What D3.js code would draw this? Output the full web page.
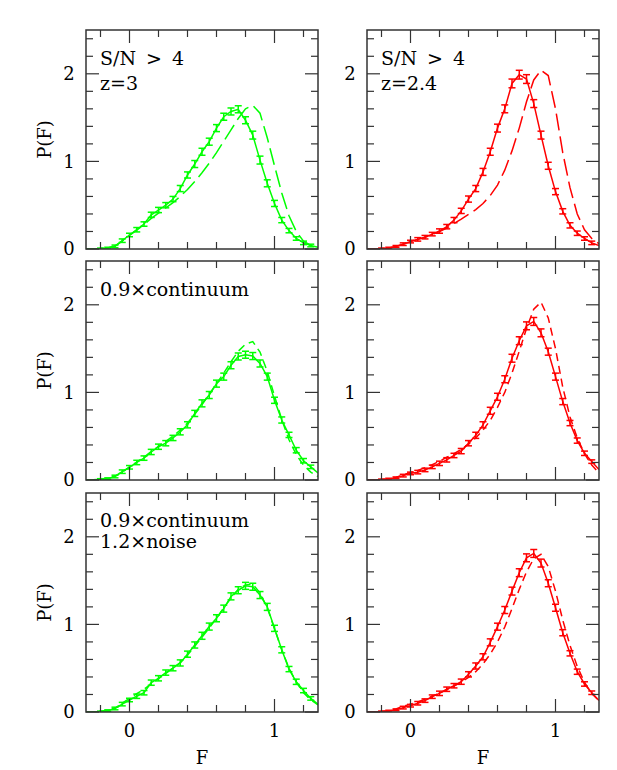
<!DOCTYPE html>
<html>
<head>
<meta charset="utf-8">
<script src="https://cdn.jsdelivr.net/npm/d3@7"></script>
<style>
  html, body { margin: 0; padding: 0; background: #fff; }
  svg { display: block; }
  text { font-family: "DejaVu Serif", serif; fill: #000; }
</style>
</head>
<body>
<svg id="chart" width="617" height="770"></svg>
<script>
// ---------------- DATA ----------------
const fGrid = [-0.3,-0.25,-0.2,-0.15,-0.1,-0.05,0,0.05,0.1,0.15,0.2,0.25,0.3,0.35,0.4,0.45,0.5,0.55,0.6,0.65,0.7,0.75,0.8,0.85,0.9,0.95,1.0,1.05,1.1,1.15,1.2,1.25,1.3];

// top-left: z=3, S/N > 4
const tlData  = [0,0,0.005,0.01,0.03,0.095,0.16,0.22,0.285,0.39,0.445,0.5,0.57,0.69,0.845,0.97,1.11,1.225,1.38,1.51,1.57,1.595,1.47,1.3,1.015,0.75,0.52,0.33,0.21,0.12,0.07,0.04,0.02];
const tlModel = [0,0,0.005,0.015,0.035,0.09,0.155,0.215,0.28,0.35,0.41,0.47,0.53,0.6,0.68,0.77,0.87,0.98,1.1,1.23,1.36,1.49,1.6,1.64,1.55,1.27,0.95,0.64,0.38,0.2,0.09,0.04,0.015];
const tlErr   = [0,0,0.005,0.01,0.015,0.02,0.02,0.025,0.025,0.03,0.03,0.03,0.03,0.035,0.035,0.04,0.04,0.04,0.04,0.04,0.04,0.04,0.04,0.045,0.045,0.04,0.035,0.03,0.025,0.02,0.02,0.015,0];

// top-right: z=2.4, S/N > 4
const trData  = [0,0,0.005,0.01,0.03,0.055,0.085,0.11,0.135,0.17,0.205,0.255,0.33,0.435,0.57,0.69,0.88,1.11,1.38,1.6,1.89,1.99,1.94,1.66,1.3,0.95,0.655,0.43,0.27,0.18,0.12,0.07,0.04];
const trModel = [0,0,0.005,0.01,0.03,0.055,0.085,0.11,0.135,0.165,0.2,0.24,0.29,0.34,0.395,0.45,0.52,0.61,0.73,0.9,1.12,1.38,1.68,1.93,2.04,1.98,1.6,1.1,0.7,0.4,0.22,0.12,0.06];
const trErr   = [0,0,0.005,0.01,0.01,0.015,0.015,0.02,0.02,0.02,0.025,0.025,0.03,0.03,0.035,0.035,0.04,0.04,0.045,0.045,0.05,0.05,0.05,0.045,0.045,0.04,0.035,0.03,0.03,0.025,0.02,0.02,0];

// middle-left: 0.9 x continuum
const mlData  = [0,0.003,0.01,0.015,0.04,0.095,0.145,0.2,0.25,0.32,0.38,0.42,0.48,0.55,0.63,0.76,0.875,0.97,1.1,1.18,1.31,1.41,1.43,1.415,1.33,1.18,0.91,0.685,0.515,0.34,0.22,0.15,0.08];
const mlModel = [0,0.003,0.01,0.02,0.045,0.09,0.15,0.205,0.26,0.325,0.385,0.44,0.5,0.57,0.65,0.75,0.86,0.98,1.1,1.22,1.35,1.47,1.55,1.58,1.46,1.24,0.96,0.69,0.46,0.29,0.17,0.09,0.04];
const mlErr   = [0,0,0.005,0.01,0.015,0.02,0.02,0.025,0.025,0.03,0.03,0.03,0.03,0.035,0.035,0.035,0.04,0.04,0.04,0.04,0.04,0.04,0.04,0.04,0.04,0.04,0.035,0.035,0.03,0.03,0.025,0.02,0];

// middle-right
const mrData  = [0,0,0.005,0.01,0.025,0.05,0.075,0.09,0.115,0.15,0.19,0.23,0.28,0.33,0.42,0.51,0.63,0.79,0.95,1.15,1.39,1.59,1.76,1.81,1.68,1.465,1.18,0.895,0.65,0.45,0.305,0.21,0.12];
const mrModel = [0,0,0.005,0.01,0.03,0.06,0.085,0.11,0.14,0.175,0.215,0.26,0.3,0.35,0.41,0.48,0.57,0.68,0.83,1.0,1.22,1.47,1.73,1.95,2.03,1.85,1.5,1.06,0.72,0.48,0.3,0.17,0.08];
const mrErr   = [0,0,0.005,0.01,0.01,0.015,0.015,0.02,0.02,0.02,0.025,0.025,0.025,0.03,0.03,0.035,0.035,0.04,0.04,0.04,0.045,0.045,0.045,0.045,0.045,0.04,0.04,0.035,0.03,0.03,0.025,0.02,0];

// bottom-left: 0.9 x continuum, 1.2 x noise
const blData  = [0,0.002,0.005,0.015,0.04,0.09,0.137,0.18,0.22,0.335,0.385,0.45,0.5,0.56,0.66,0.765,0.87,0.975,1.07,1.18,1.32,1.39,1.44,1.43,1.335,1.2,0.955,0.71,0.49,0.345,0.245,0.155,0.09];
const blModel = [0,0.003,0.01,0.02,0.045,0.1,0.155,0.21,0.26,0.32,0.38,0.44,0.5,0.565,0.65,0.75,0.855,0.96,1.07,1.19,1.3,1.4,1.45,1.46,1.36,1.19,0.95,0.71,0.5,0.34,0.22,0.14,0.08];
const blErr   = [0,0,0.005,0.01,0.015,0.02,0.02,0.025,0.025,0.03,0.03,0.03,0.03,0.035,0.035,0.035,0.04,0.04,0.04,0.04,0.04,0.04,0.04,0.04,0.04,0.04,0.035,0.035,0.03,0.03,0.025,0.02,0];

// bottom-right
const brData  = [0,0,0.005,0.01,0.025,0.05,0.072,0.1,0.13,0.175,0.213,0.26,0.3,0.346,0.43,0.525,0.63,0.795,0.974,1.164,1.38,1.59,1.76,1.81,1.7,1.47,1.19,0.905,0.67,0.46,0.32,0.22,0.13];
const brModel = [0,0,0.005,0.015,0.035,0.065,0.09,0.115,0.145,0.18,0.215,0.255,0.295,0.34,0.395,0.46,0.55,0.66,0.8,0.97,1.18,1.4,1.6,1.75,1.8,1.66,1.38,1.05,0.76,0.52,0.34,0.21,0.13];
const brErr   = [0,0,0.005,0.01,0.01,0.015,0.015,0.02,0.02,0.02,0.025,0.025,0.025,0.03,0.03,0.035,0.035,0.04,0.04,0.04,0.045,0.045,0.045,0.045,0.045,0.04,0.04,0.035,0.03,0.03,0.025,0.02,0];

const xTicksMinor = [-0.2,0.2,0.4,0.6,0.8,1.2];
const xTicksMajor = [0,1];
const yTicksMinor = [0.2,0.4,0.6,0.8,1.2,1.4,1.6,1.8,2.2,2.4];
const yTicksMajor = [0,1,2];
const xTickLabels = ["0","1"];
const yTickLabels = ["0","1","2"];
const xTitle = "F";
const yTitle = "P(F)";

const panelLabels = [
  ["S/N > 4","z=3"], ["S/N > 4","z=2.4"],
  ["0.9×continuum"], [],
  ["0.9×continuum","1.2×noise"], []
];

// ---------------- LAYOUT ----------------
const colX = [86, 367];
const rowY = [30, 261, 493];
const W = 232, H = 219;
const GREEN = "#00ff00", RED = "#ff0000";
const FRAME = "#333";

const panels = [
  {r:0,c:0,data:tlData,model:tlModel,err:tlErr,color:GREEN,dash:"17,6"},
  {r:0,c:1,data:trData,model:trModel,err:trErr,color:RED,dash:"17,6"},
  {r:1,c:0,data:mlData,model:mlModel,err:mlErr,color:GREEN,dash:"8,5"},
  {r:1,c:1,data:mrData,model:mrModel,err:mrErr,color:RED,dash:"8,5"},
  {r:2,c:0,data:blData,model:blModel,err:blErr,color:GREEN,dash:"8,5"},
  {r:2,c:1,data:brData,model:brModel,err:brErr,color:RED,dash:"8,5"}
];

const svg = d3.select("#chart");

panels.forEach((p, i) => {
  const x0 = colX[p.c], y0 = rowY[p.r];
  const x = d3.scaleLinear().domain([-0.3, 1.3]).range([x0, x0 + W]);
  const y = d3.scaleLinear().domain([0, 2.5]).range([y0 + H, y0]);
  const g = svg.append("g");

  const clipId = "clip" + i;
  svg.append("clipPath").attr("id", clipId)
    .append("rect").attr("x", x0).attr("y", y0).attr("width", W).attr("height", H);

  const plot = g.append("g").attr("clip-path", `url(#${clipId})`);
  const line = d3.line().x((d, k) => x(fGrid[k])).y(d => y(d));

  // model (dashed)
  plot.append("path").datum(p.model)
    .attr("d", line).attr("fill", "none")
    .attr("stroke", p.color).attr("stroke-width", 1.5)
    .attr("stroke-dasharray", p.dash);

  // data (solid)
  plot.append("path").datum(p.data)
    .attr("d", line).attr("fill", "none")
    .attr("stroke", p.color).attr("stroke-width", 1.5);

  // error bars
  const eb = plot.append("g").attr("stroke", p.color).attr("stroke-width", 1.5);
  p.data.forEach((v, k) => {
    const e = p.err[k];
    if (!e) return;
    const cx = x(fGrid[k]);
    const yt = y(v + e), yb = y(Math.max(0, v - e));
    eb.append("line").attr("x1", cx).attr("x2", cx).attr("y1", yt).attr("y2", yb);
    eb.append("line").attr("x1", cx - 3.5).attr("x2", cx + 3.5).attr("y1", yt).attr("y2", yt);
    eb.append("line").attr("x1", cx - 3.5).attr("x2", cx + 3.5).attr("y1", yb).attr("y2", yb);
  });

  // ticks
  const tg = g.append("g").attr("stroke", FRAME).attr("stroke-width", 1.2);
  const addX = (vals, len) => vals.forEach(v => {
    tg.append("line").attr("x1", x(v)).attr("x2", x(v)).attr("y1", y0 + H).attr("y2", y0 + H - len);
    tg.append("line").attr("x1", x(v)).attr("x2", x(v)).attr("y1", y0).attr("y2", y0 + len);
  });
  const addY = (vals, len) => vals.forEach(v => {
    tg.append("line").attr("x1", x0).attr("x2", x0 + len).attr("y1", y(v)).attr("y2", y(v));
    tg.append("line").attr("x1", x0 + W).attr("x2", x0 + W - len).attr("y1", y(v)).attr("y2", y(v));
  });
  addX(xTicksMinor, 7); addX(xTicksMajor, 13);
  addY(yTicksMinor, 7); addY(yTicksMajor, 13);

  // frame
  g.append("rect").attr("x", x0).attr("y", y0).attr("width", W).attr("height", H)
    .attr("fill", "none").attr("stroke", FRAME).attr("stroke-width", 1.5);

  // y tick labels
  yTicksMajor.forEach((v, k) => {
    g.append("text").attr("x", x0 - 17).attr("y", y(v)).attr("dy", "0.36em")
      .attr("text-anchor", "middle").attr("font-size", 18).text(yTickLabels[k]);
  });

  // y title (left column only)
  if (p.c === 0) {
    g.append("text")
      .attr("transform", `translate(${x0 - 35},${y0 + H / 2}) rotate(-90)`)
      .attr("text-anchor", "middle").attr("font-size", 18).text(yTitle);
  }

  // x tick labels and title (bottom row only)
  if (p.r === 2) {
    xTicksMajor.forEach((v, k) => {
      g.append("text").attr("x", x(v)).attr("y", 737)
        .attr("text-anchor", "middle").attr("font-size", 18).text(xTickLabels[k]);
    });
    g.append("text").attr("x", x0 + W / 2).attr("y", 764)
      .attr("text-anchor", "middle").attr("font-size", 18).text(xTitle);
  }

  // panel labels
  const labs = panelLabels[i];
  const baselines = p.r === 2 ? [34, 55] : [35, 60];
  labs.forEach((t, k) => {
    g.append("text").attr("x", x0 + 14).attr("y", y0 + baselines[k])
      .attr("font-size", 19).attr("word-spacing", "4px")
      .style("white-space", "pre").text(t);
  });
});
</script>
</body>
</html>
